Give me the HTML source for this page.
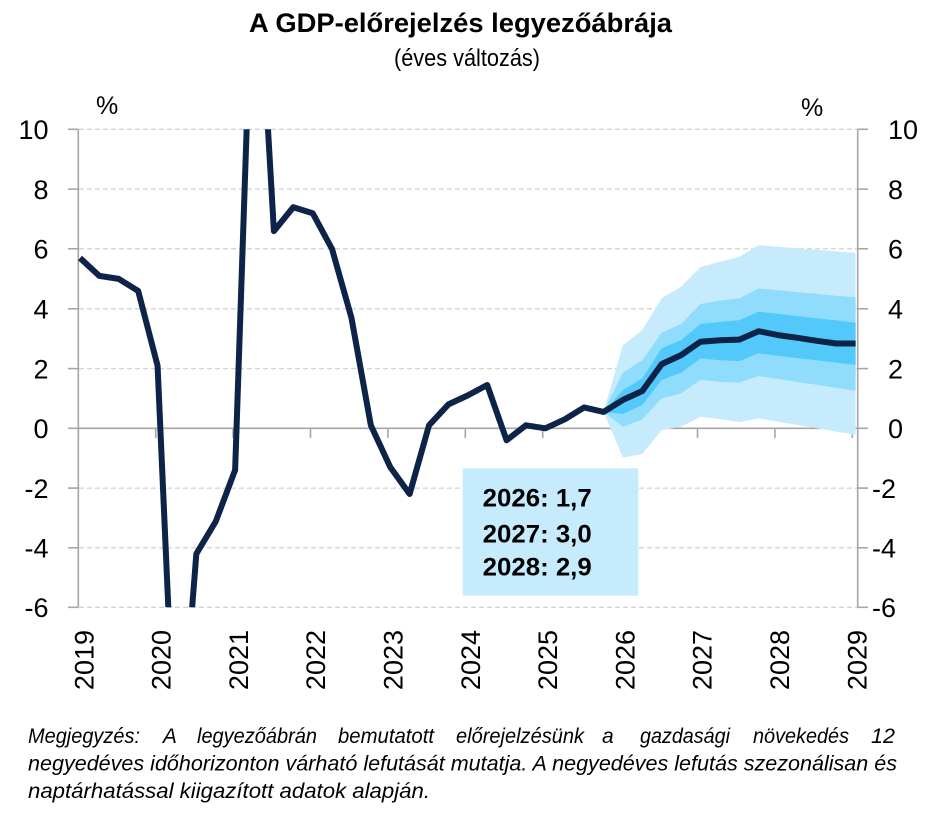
<!DOCTYPE html>
<html><head><meta charset="utf-8"><style>
html,body{margin:0;padding:0;background:#fff;}
svg{display:block;}
text{font-family:"Liberation Sans",sans-serif;fill:#000;}
</style></head><body>
<svg width="937" height="829" viewBox="0 0 937 829" xmlns="http://www.w3.org/2000/svg">
<rect width="937" height="829" fill="#fff"/>
<!-- Title -->
<text x="249" y="32" font-size="27" font-weight="bold" textLength="423" lengthAdjust="spacingAndGlyphs">A GDP-előrejelzés legyezőábrája</text>
<text x="394" y="66" font-size="24" textLength="146" lengthAdjust="spacingAndGlyphs">(éves változás)</text>
<!-- % labels -->
<text x="96" y="114" font-size="25">%</text>
<text x="801" y="116" font-size="25">%</text>
<!-- gridlines -->
<g stroke="#d3d3d3" stroke-width="1.3" stroke-dasharray="5,3">
<line x1="79" y1="129.3" x2="858" y2="129.3"/>
<line x1="79" y1="189.1" x2="858" y2="189.1"/>
<line x1="79" y1="248.8" x2="858" y2="248.8"/>
<line x1="79" y1="308.8" x2="858" y2="308.8"/>
<line x1="79" y1="368.6" x2="858" y2="368.6"/>
<line x1="79" y1="488.1" x2="858" y2="488.1"/>
<line x1="79" y1="547.8" x2="858" y2="547.8"/>
<line x1="79" y1="607.3" x2="858" y2="607.3"/>
</g>
<!-- axes -->
<g stroke="#a6a6a6" stroke-width="1.6" fill="none">
<line x1="78.3" y1="129.3" x2="78.3" y2="607.3"/>
<line x1="857.7" y1="129.3" x2="857.7" y2="607.3"/>
<line x1="78.3" y1="428.3" x2="857.7" y2="428.3"/>
<line x1="68" y1="129.3" x2="78.3" y2="129.3"/>
<line x1="68" y1="189.1" x2="78.3" y2="189.1"/>
<line x1="68" y1="248.8" x2="78.3" y2="248.8"/>
<line x1="68" y1="308.8" x2="78.3" y2="308.8"/>
<line x1="68" y1="368.6" x2="78.3" y2="368.6"/>
<line x1="68" y1="428.3" x2="78.3" y2="428.3"/>
<line x1="68" y1="488.1" x2="78.3" y2="488.1"/>
<line x1="68" y1="547.8" x2="78.3" y2="547.8"/>
<line x1="68" y1="607.3" x2="78.3" y2="607.3"/>
<line x1="857.7" y1="129.3" x2="868" y2="129.3"/>
<line x1="857.7" y1="189.1" x2="868" y2="189.1"/>
<line x1="857.7" y1="248.8" x2="868" y2="248.8"/>
<line x1="857.7" y1="308.8" x2="868" y2="308.8"/>
<line x1="857.7" y1="368.6" x2="868" y2="368.6"/>
<line x1="857.7" y1="428.3" x2="868" y2="428.3"/>
<line x1="857.7" y1="488.1" x2="868" y2="488.1"/>
<line x1="857.7" y1="547.8" x2="868" y2="547.8"/>
<line x1="857.7" y1="607.3" x2="868" y2="607.3"/>
<line x1="78.3" y1="428.3" x2="78.3" y2="438"/>
<line x1="155.7" y1="428.3" x2="155.7" y2="438"/>
<line x1="233.1" y1="428.3" x2="233.1" y2="438"/>
<line x1="310.5" y1="428.3" x2="310.5" y2="438"/>
<line x1="387.9" y1="428.3" x2="387.9" y2="438"/>
<line x1="465.3" y1="428.3" x2="465.3" y2="438"/>
<line x1="542.7" y1="428.3" x2="542.7" y2="438"/>
<line x1="620.1" y1="428.3" x2="620.1" y2="438"/>
<line x1="697.5" y1="428.3" x2="697.5" y2="438"/>
<line x1="774.9" y1="428.3" x2="774.9" y2="438"/>
<line x1="852.3" y1="428.3" x2="852.3" y2="438"/>
</g>
<!-- fan -->
<polygon fill="#c6ebfd" points="603.53,411.9 622.92,345.2 642.31,330.0 661.7,298.3 681.09,286.7 700.48,267.0 719.87,261.9 739.26,256.8 758.65,245.2 778.04,246.7 797.43,248.2 816.82,249.9 836.21,251.4 855.6,252.9 855.6,434.9 836.21,431.6 816.82,428.3 797.43,425.0 778.04,421.7 758.65,418.4 739.26,422.3 719.87,419.0 700.48,416.7 681.09,426.8 661.7,430.1 642.31,454.0 622.92,457.6"/>
<polygon fill="#8fdcfc" points="603.53,411.9 622.92,372.7 642.31,360.2 661.7,332.7 681.09,324.0 700.48,304.0 719.87,300.7 739.26,298.3 758.65,288.5 778.04,290.3 797.43,292.1 816.82,293.9 836.21,295.7 855.6,297.4 855.6,390.7 836.21,387.7 816.82,384.7 797.43,382.0 778.04,379.0 758.65,376.0 739.26,382.6 719.87,381.7 700.48,379.9 681.09,393.3 661.7,398.4 642.31,419.3 622.92,426.8"/>
<polygon fill="#52c9fa" points="603.53,411.9 622.92,390.1 642.31,378.4 661.7,348.2 681.09,340.2 700.48,324.0 719.87,321.9 739.26,320.2 758.65,311.8 778.04,313.9 797.43,316.0 816.82,318.4 836.21,320.4 855.6,322.8 855.6,364.9 836.21,362.6 816.82,360.2 797.43,358.1 778.04,355.7 758.65,353.3 739.26,361.1 719.87,360.2 700.48,358.4 681.09,372.7 661.7,379.9 642.31,405.0 622.92,414.0"/>
<!-- main line -->
<defs><clipPath id="pa"><rect x="70" y="129.3" width="800" height="478"/></clipPath></defs>
<polyline clip-path="url(#pa)" fill="none" stroke="#0d2347" stroke-width="6" stroke-linejoin="round" points="80.0,258.0 99.39,275.9 118.78,278.9 138.17,290.9 157.56,365.6 176.95,801.7 196.34,553.8 215.73,521.5 235.12,470.1 254.51,-103.5 273.9,231.1 293.29,207.2 312.68,213.2 332.07,249.1 351.46,317.8 370.85,425.3 390.24,467.1 409.63,494.0 429.02,425.3 448.41,404.4 467.8,395.4 487.19,385.0 506.58,440.3 525.97,425.3 545.36,428.3 564.75,419.3 584.14,407.4 603.53,411.9 622.92,399.9 642.31,391.0 661.7,364.1 681.09,355.1 700.48,341.7 719.87,340.2 739.26,339.6 758.65,331.2 778.04,335.1 797.43,337.8 816.82,340.8 836.21,343.5 855.6,343.5"/>
<!-- text box -->
<rect x="462.7" y="468.3" width="175.6" height="127.4" fill="#c6ebfd"/>
<g font-size="25" font-weight="bold">
<text x="482.7" y="506.5" textLength="109" lengthAdjust="spacingAndGlyphs">2026: 1,7</text>
<text x="482.7" y="542.3" textLength="109" lengthAdjust="spacingAndGlyphs">2027: 3,0</text>
<text x="482.7" y="575.5" textLength="109" lengthAdjust="spacingAndGlyphs">2028: 2,9</text>
</g>
<!-- left y labels -->
<g font-size="27" text-anchor="end">
<text x="48.5" y="139">10</text>
<text x="48.5" y="198.8">8</text>
<text x="48.5" y="258.5">6</text>
<text x="48.5" y="318.5">4</text>
<text x="48.5" y="378.3">2</text>
<text x="48.5" y="438">0</text>
<text x="48.5" y="497.8">-2</text>
<text x="48.5" y="557.5">-4</text>
<text x="48.5" y="617">-6</text>
</g>
<!-- right y labels -->
<g font-size="27">
<text x="888" y="139">10</text>
<text x="888" y="198.8">8</text>
<text x="888" y="258.5">6</text>
<text x="888" y="318.5">4</text>
<text x="888" y="378.3">2</text>
<text x="888" y="438">0</text>
<text x="872" y="497.8">-2</text>
<text x="872" y="557.5">-4</text>
<text x="872" y="617">-6</text>
</g>
<!-- x labels -->
<g font-size="27" text-anchor="end">
<text transform="translate(93.3,630) rotate(-90)">2019</text>
<text transform="translate(170.6,630) rotate(-90)">2020</text>
<text transform="translate(247.9,630) rotate(-90)">2021</text>
<text transform="translate(325.2,630) rotate(-90)">2022</text>
<text transform="translate(402.5,630) rotate(-90)">2023</text>
<text transform="translate(479.8,630) rotate(-90)">2024</text>
<text transform="translate(557.1,630) rotate(-90)">2025</text>
<text transform="translate(634.4,630) rotate(-90)">2026</text>
<text transform="translate(711.7,630) rotate(-90)">2027</text>
<text transform="translate(789.0,630) rotate(-90)">2028</text>
<text transform="translate(866.3,630) rotate(-90)">2029</text>
</g>
<!-- note -->
<g font-size="21" font-style="italic" fill="#000">
<text x="28" y="743" textLength="112" lengthAdjust="spacingAndGlyphs">Megjegyzés:</text>
<text x="162.9" y="743">A</text>
<text x="197" y="743" textLength="120" lengthAdjust="spacingAndGlyphs">legyezőábrán</text>
<text x="338" y="743" textLength="96" lengthAdjust="spacingAndGlyphs">bemutatott</text>
<text x="456" y="743" textLength="128" lengthAdjust="spacingAndGlyphs">előrejelzésünk</text>
<text x="602" y="743">a</text>
<text x="640" y="743" textLength="90" lengthAdjust="spacingAndGlyphs">gazdasági</text>
<text x="753" y="743" textLength="96" lengthAdjust="spacingAndGlyphs">növekedés</text>
<text x="871" y="743" textLength="24" lengthAdjust="spacingAndGlyphs">12</text>
<text x="28" y="770.5" textLength="869" lengthAdjust="spacingAndGlyphs">negyedéves időhorizonton várható lefutását mutatja. A negyedéves lefutás szezonálisan és</text>
<text x="28" y="798" textLength="402" lengthAdjust="spacingAndGlyphs">naptárhatással kiigazított adatok alapján.</text>
</g>
</svg>
</body></html>
